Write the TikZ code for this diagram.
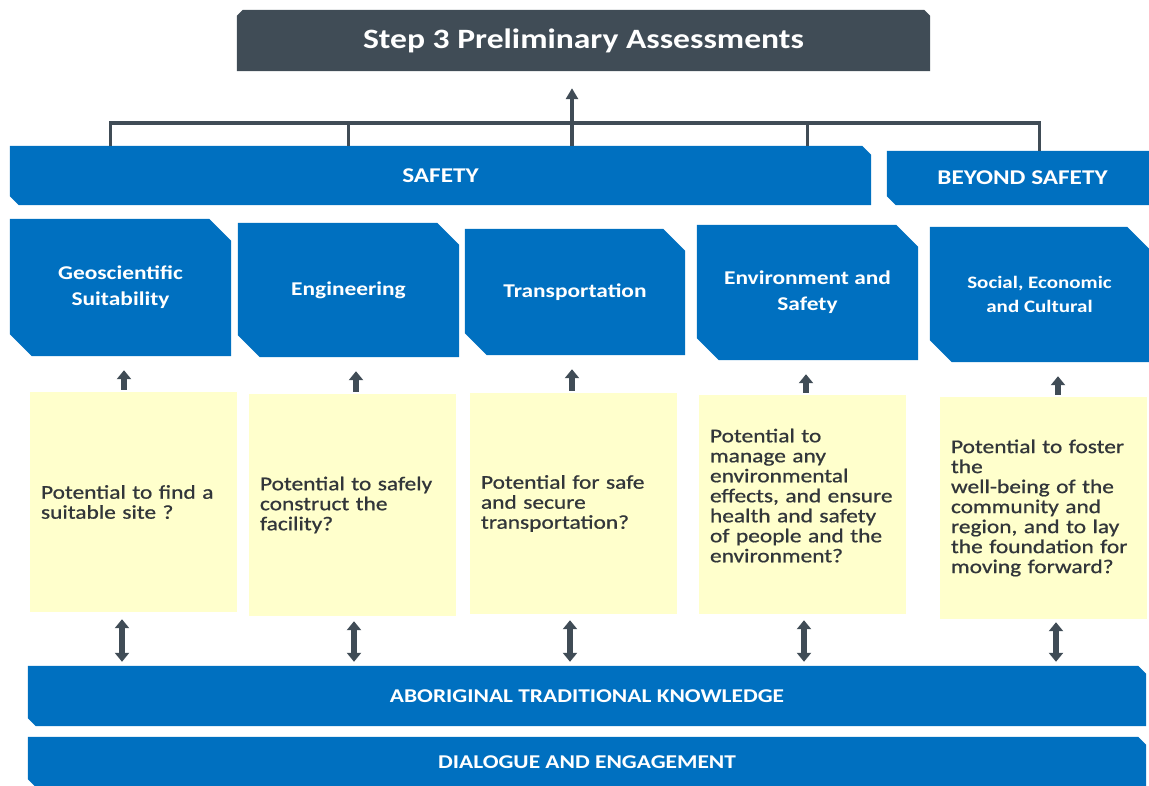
\documentclass[tikz,border=0pt]{standalone}
\usepackage{fontspec}
\setmainfont{Carlito}[FakeStretch=1.2]
\newfontfamily\notefont{Carlito}[FakeStretch=1.2,FakeBold=0.8]
\usetikzlibrary{arrows.meta,backgrounds}
\definecolor{nwmoblue}{RGB}{0,112,192}
\definecolor{titlegray}{RGB}{64,76,86}
\definecolor{notefill}{RGB}{255,255,204}
\definecolor{notetext}{RGB}{50,54,58}

\newcommand{\chamferfill}[3][nwmoblue]{%
  \fill[#1] (#2.north west) -- ([xshift=-#3]#2.north east) -- ([yshift=-#3]#2.north east)
    -- (#2.south east) -- ([xshift=#3]#2.south west) -- ([yshift=#3]#2.south west) -- cycle;}

\begin{document}
\begin{tikzpicture}[x=1pt,y=-1pt,line join=miter,
  bluebox/.style={inner sep=0pt,text=white,align=center,font=\bfseries\fontsize{19.5}{26}\selectfont},
  barbox/.style={inner sep=0pt,text=white,font=\bfseries\fontsize{19.5}{22}\selectfont},
  notebox/.style={fill=notefill,inner xsep=11pt,inner ysep=0pt,text width=185pt,align=left,text=notetext,font=\notefont\fontsize{19.5}{20}\selectfont},
  linkline/.style={line width=3.5pt,draw=titlegray},
  uparrow/.style={line width=6pt,draw=titlegray,-{Triangle[width=14pt,length=9pt]}},
  bothways/.style={line width=6pt,draw=titlegray,{Triangle[width=14pt,length=9pt]}-{Triangle[width=14pt,length=9pt]}}]
\useasboundingbox (0,0) rectangle (1149,785);
\clip (0,0) rectangle (1149,785);

\node[barbox,font=\bfseries\fontsize{28}{30}\selectfont,minimum width=693pt,minimum height=61pt] (title) at (583.5,40.5) {Step 3 Preliminary Assessments};

\node[barbox,font=\bfseries\fontsize{21}{24}\selectfont,minimum width=861pt,minimum height=59pt] (safety) at (440.5,175.5) {SAFETY};
\node[barbox,font=\bfseries\fontsize{21}{24}\selectfont,minimum width=271pt,minimum height=54pt] (beyond) at (1022.5,178) {BEYOND SAFETY};

\node[bluebox,minimum width=221pt,minimum height=137pt] (geo) at (120.5,287.5) {Geoscientific\\Suitability};
\node[bluebox,minimum width=221pt,minimum height=134pt] (eng) at (348.5,290) {Engineering};
\node[bluebox,minimum width=220pt,minimum height=126pt] (trans) at (575,292) {Transportation};
\node[bluebox,minimum width=221pt,minimum height=135pt] (env) at (807.5,292.5) {Environment and\\Safety};
\node[bluebox,font=\bfseries\fontsize{17.5}{24}\selectfont,minimum width=219pt,minimum height=135pt] (social) at (1039.5,294.5) {Social, Economic\\and Cultural};

\node[notebox,minimum height=220pt] (note1) at (133.5,502) {Potential to find a\\suitable site ?};
\node[notebox,minimum height=222pt] (note2) at (352.5,505) {Potential to safely\\construct the\\facility?};
\node[notebox,minimum height=221pt] (note3) at (573.5,503.5) {Potential for safe\\and secure\\transportation?};
\node[notebox,minimum height=219pt] (note4) at (802.5,504.5) {Potential to\\manage any\\environmental\\effects, and ensure\\health and safety\\of people and the\\environment?\\[-2pt]\mbox{}};
\node[notebox,minimum height=222pt] (note5) at (1043.5,508) {Potential to foster\\the\\well-being of the\\community and\\region, and to lay\\the foundation for\\moving forward?};

\node[barbox,minimum width=1118pt,minimum height=60pt] (atk) at (587,696) {ABORIGINAL TRADITIONAL KNOWLEDGE};
\node[barbox,minimum width=1118pt,minimum height=50pt] (dialogue) at (587,762) {DIALOGUE AND ENGAGEMENT};

\begin{scope}[on background layer]
\fill[titlegray] (title.south west) -- ([yshift=-6pt]title.north west) -- ([xshift=6pt]title.north west)
  -- ([xshift=-6pt]title.north east) -- ([yshift=-6pt]title.north east) -- (title.south east) -- cycle;
\chamferfill{safety}{9pt}
\chamferfill{beyond}{9pt}
\chamferfill{geo}{22pt}
\chamferfill{eng}{22pt}
\chamferfill{trans}{22pt}
\chamferfill{env}{22pt}
\chamferfill{social}{22pt}
\chamferfill{atk}{8pt}
\chamferfill{dialogue}{8pt}
\end{scope}

\coordinate (hub) at (572,123);
\coordinate (col1) at (124,0);
\coordinate (col2) at (356,0);
\coordinate (col3) at (572,0);
\coordinate (col4) at (806,0);
\coordinate (col5) at (1058,0);

\draw[linkline] ([xshift=-10pt]geo.north |- safety.north) -- ([xshift=-10pt]geo.north |- hub) -- (social.north |- hub) -- (social.north |- beyond.north);
\draw[linkline] (eng.north |- safety.north) -- (eng.north |- hub);
\draw[linkline] (env.north |- safety.north) -- (env.north |- hub);
\draw[linkline,-{Triangle[width=12pt,length=11pt]},shorten >=17pt] (hub |- safety.north) -- (hub |- title.south);

\draw[uparrow,shorten <=2pt,shorten >=14pt] (note1.north -| col1) -- (geo.south -| col1);
\draw[uparrow,shorten <=2pt,shorten >=14pt] (note2.north -| col2) -- (eng.south -| col2);
\draw[uparrow,shorten <=2pt,shorten >=14pt] (note3.north -| col3) -- (trans.south -| col3);
\draw[uparrow,shorten <=2pt,shorten >=14pt] (note4.north -| col4) -- (env.south -| col4);
\draw[uparrow,shorten <=2pt,shorten >=14pt] (note5.north -| col5) -- (social.south -| col5);

\draw[bothways,shorten <=7pt,shorten >=4pt] ([xshift=-2pt]note1.south -| col1) -- ([xshift=-2pt]atk.north -| col1);
\draw[bothways,shorten <=5pt,shorten >=4pt] ([xshift=-2pt]note2.south -| col2) -- ([xshift=-2pt]atk.north -| col2);
\draw[bothways,shorten <=6pt,shorten >=4pt] ([xshift=-2pt]note3.south -| col3) -- ([xshift=-2pt]atk.north -| col3);
\draw[bothways,shorten <=6pt,shorten >=4pt] ([xshift=-2pt]note4.south -| col4) -- ([xshift=-2pt]atk.north -| col4);
\draw[bothways,shorten <=3pt,shorten >=4pt] ([xshift=-2pt]note5.south -| col5) -- ([xshift=-2pt]atk.north -| col5);
\end{tikzpicture}
\end{document}
